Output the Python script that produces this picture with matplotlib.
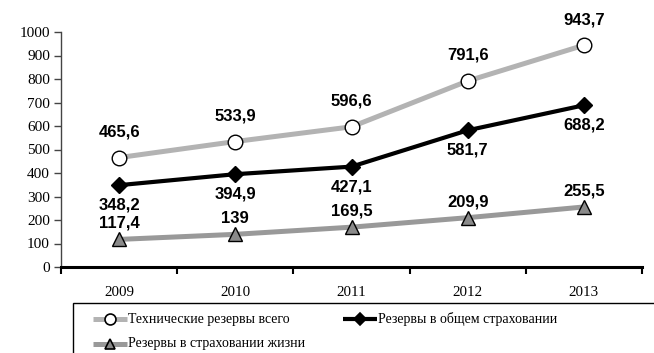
import matplotlib
matplotlib.use("Agg")
import matplotlib.pyplot as plt
from matplotlib.lines import Line2D
from matplotlib.patches import Rectangle

years = ["2009", "2010", "2011", "2012", "2013"]
technical = [465.6, 533.9, 596.6, 791.6, 943.7]
general = [348.2, 394.9, 427.1, 581.7, 688.2]
life = [117.4, 139, 169.5, 209.9, 255.5]
names = ["Технические резервы всего", "Резервы в общем страховании",
         "Резервы в страховании жизни"]
yticks = list(range(0, 1001, 100))

W, H = 654, 353
fig = plt.figure(figsize=(W / 100, H / 100), dpi=100)
ax = fig.add_axes([61 / W, 86 / H, (642 - 61) / W, (267 - 32) / H])

x = list(range(len(years)))
styles = [
    dict(color="#b3b3b3", lw=3.6, marker="o", ms=10.5, mfc="white", mec="black", mew=1.0),
    dict(color="black", lw=3.0, marker="D", ms=8.5, mfc="black", mec="black", mew=1.0),
    dict(color="#999999", lw=3.6, marker="^", ms=9.5, mfc="#8a8a8a", mec="black", mew=1.0),
]
offsets = [18.5, -14.5, 11.5]
series = [technical, general, life]
for vals, st, off in zip(series, styles, offsets):
    ax.plot(x, vals, solid_capstyle="butt", zorder=3, **st)
    for xi, v in zip(x, vals):
        ax.annotate(format(v, "g").replace(".", ","), (xi, v), xytext=(0, off),
                    textcoords="offset points", ha="center", va="center",
                    fontsize=12, fontweight="bold", family="Liberation Sans", zorder=4)

ax.set_xlim(-0.5, len(years) - 0.5)
ax.set_ylim(0, 1000)
ax.set_yticks(yticks)
ax.set_yticklabels([str(t) for t in yticks], family="Liberation Serif", fontsize=11)
ax.set_xticks(x)
ax.set_xticklabels(years, family="Liberation Serif", fontsize=10.8)
ax.tick_params(axis="x", which="major", length=0, pad=14)
ax.set_xticks([i - 0.5 for i in range(len(years) + 1)], minor=True)
ax.tick_params(axis="x", which="minor", length=5, width=1.5, direction="out")
ax.tick_params(axis="y", length=5, width=1.0, color="#444444", pad=3)
for s in ["top", "right"]:
    ax.spines[s].set_visible(False)
ax.spines["left"].set_color("#444444")
ax.spines["left"].set_linewidth(1.0)
ax.spines["bottom"].set_linewidth(2.2)
ax.spines["bottom"].set_color("black")

# legend box
fig.patches.append(Rectangle((73 / W, 1 - 370 / H), (662 - 73) / W, (370 - 303) / H,
                             transform=fig.transFigure, fill=False, ec="black", lw=1.0))
positions = [(93, 319), (343, 319), (93, 344)]
for (px, py), st, name in zip(positions, styles, names):
    yf = 1 - py / H
    ln = Line2D([px / W, (px + 34) / W], [yf, yf], transform=fig.transFigure,
                color=st["color"], lw=st["lw"], solid_capstyle="butt")
    fig.lines.append(ln)
    mk = Line2D([(px + 17) / W], [yf], transform=fig.transFigure, ls="none",
                marker=st["marker"], ms=st["ms"] * 0.75, mfc=st["mfc"], mec=st["mec"], mew=1.2)
    fig.lines.append(mk)
    fig.text((px + 35) / W, yf, name, family="Liberation Serif", fontsize=10,
             ha="left", va="center")

fig.savefig("out.png", dpi=100)
